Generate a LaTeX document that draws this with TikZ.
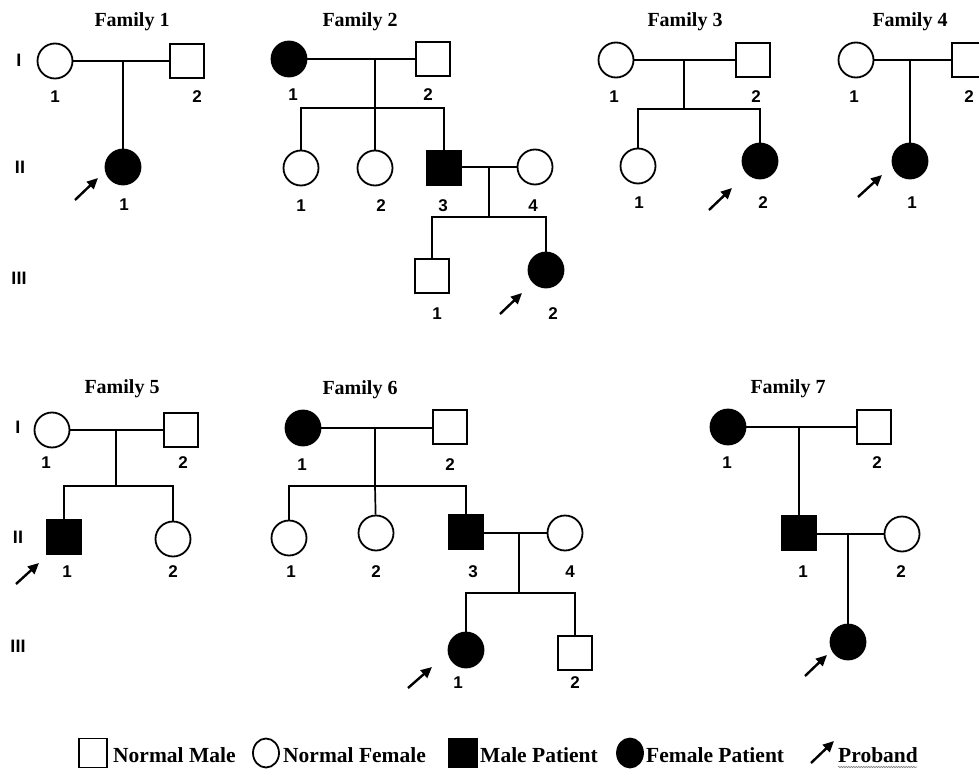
\documentclass[tikz,border=0pt]{standalone}
\usepackage{fontspec}
\setmainfont{Liberation Serif}
\newfontfamily\lsans{Liberation Sans}
\usetikzlibrary{arrows.meta,decorations.pathmorphing,shapes.geometric}
\tikzset{
  pm/.style={draw, rectangle, minimum size=34pt, inner sep=0pt, line width=1.8pt},
  pf/.style={draw, circle, minimum size=35pt, inner sep=0pt, line width=1.8pt},
  aff/.style={fill=black},
  lnk/.style={line width=1.7pt},
  num/.style={font=\lsans\bfseries\fontsize{17}{17}\selectfont, inner sep=0pt},
  gen/.style={font=\lsans\bfseries\fontsize{18}{18}\selectfont, inner sep=0pt},
  ttl/.style={font=\bfseries\fontsize{20}{20}\selectfont, inner sep=0pt},
  prob/.style={line width=2.4pt, -{Triangle[length=11pt,width=10pt]}},
  leg/.style={font=\bfseries\fontsize{21.5}{21.5}\selectfont, anchor=base west, inner sep=0pt},
  lsq/.style={draw, rectangle, minimum width=28pt, minimum height=29pt, inner sep=0pt, line width=1.8pt},
  lci/.style={draw, ellipse, minimum width=26pt, minimum height=29pt, inner sep=0pt, line width=1.8pt}
}
\begin{document}
\begin{tikzpicture}[x=1pt,y=-1pt]
\useasboundingbox (0,0) rectangle (979,770);
\fill[white] (0,0) rectangle (979,770);
\clip (0,0) rectangle (979,770);

% generation labels
\node[gen] (g1a) at (19,60) {I};
\node[gen] (g2a) at (20,167) {II};
\node[gen] (g3a) at (19,278) {III};
\node[gen] (g1b) at (18,427) {I};
\node[gen] (g2b) at (18,537) {II};
\node[gen] (g3b) at (18,646) {III};

% ---------------- Family 1
\node[ttl] (t1) at (132,22) {Family 1};
\node[pf] (f1a) at (55,61) {};
\node[pm] (f1b) at (187,61) {};
\node[pf,aff] (f1c) at (123,167) {};
\coordinate (m1) at (123,61);
\draw[lnk] (f1a) -- (f1b);
\draw[lnk] (m1) -- (f1c);
\node[num] (n1a) at (55,97) {1};
\node[num] (n1b) at (197,97) {2};
\node[num] (n1c) at (124,205) {1};
\coordinate (p1s) at (75,200); \coordinate (p1e) at (98,178);
\draw[prob] (p1s) -- (p1e);

% ---------------- Family 2
\node[ttl] (t2) at (360,22) {Family 2};
\node[pf,aff] (f2a) at (289,59) {};
\node[pm] (f2b) at (433,59) {};
\coordinate (m2) at (375,59);
\coordinate (s2) at (375,108);
\draw[lnk] (f2a) -- (f2b);
\draw[lnk] (m2) -- (s2);
\node[pf] (f2c) at (301,168) {};
\node[pf] (f2d) at (375,168) {};
\node[pm,aff] (f2e) at (444,168) {};
\node[pf] (f2f) at (535,167) {};
\draw[lnk] (s2) -| (f2c);
\draw[lnk] (s2) -| (f2e);
\draw[lnk] (s2) -- (f2d);
\draw[lnk] (f2e.east |- f2f.west) -- (f2f.west);
\coordinate (m2b) at (489,167);
\coordinate (s2b) at (489,217);
\draw[lnk] (m2b) -- (s2b);
\node[pm] (f2g) at (432,276) {};
\node[pf,aff] (f2h) at (546,270) {};
\draw[lnk] (s2b) -| (f2g);
\draw[lnk] (s2b) -| (f2h);
\node[num] (n2a) at (293,95) {1};
\node[num] (n2b) at (428,95) {2};
\node[num] (n2c) at (301,206) {1};
\node[num] (n2d) at (381,206) {2};
\node[num] (n2e) at (443,206) {3};
\node[num] (n2f) at (533,206) {4};
\node[num] (n2g) at (437,314) {1};
\node[num] (n2h) at (553,314) {2};
\coordinate (p2s) at (500,314); \coordinate (p2e) at (522,293);
\draw[prob] (p2s) -- (p2e);

% ---------------- Family 3
\node[ttl] (t3) at (685,22) {Family 3};
\node[pf] (f3a) at (616,60) {};
\node[pm] (f3b) at (753,60) {};
\coordinate (m3) at (684,60);
\coordinate (s3) at (684,109);
\draw[lnk] (f3a) -- (f3b);
\draw[lnk] (m3) -- (s3);
\node[pf] (f3c) at (638,166) {};
\node[pf,aff] (f3d) at (760,161) {};
\draw[lnk] (s3) -| (f3c);
\draw[lnk] (s3) -| (f3d);
\node[num] (n3a) at (614,97) {1};
\node[num] (n3b) at (756,97) {2};
\node[num] (n3c) at (639,203) {1};
\node[num] (n3d) at (763,203) {2};
\coordinate (p3s) at (709,210); \coordinate (p3e) at (732,188);
\draw[prob] (p3s) -- (p3e);

% ---------------- Family 4
\node[ttl] (t4) at (910,22) {Family 4};
\node[pf] (f4a) at (856,60) {};
\node[pm] (f4b) at (969,60) {};
\coordinate (m4) at (910,60);
\draw[lnk] (f4a) -- (f4b);
\node[pf,aff] (f4c) at (910,161) {};
\draw[lnk] (m4) -- (f4c);
\node[num] (n4a) at (854,97) {1};
\node[num] (n4b) at (969,97) {2};
\node[num] (n4c) at (912,203) {1};
\coordinate (p4s) at (858,197); \coordinate (p4e) at (882,175);
\draw[prob] (p4s) -- (p4e);

% ---------------- Family 5
\node[ttl] (t5) at (122,389) {Family 5};
\node[pf] (f5a) at (52,430) {};
\node[pm] (f5b) at (181,430) {};
\coordinate (m5) at (116,430);
\coordinate (s5) at (116,486);
\draw[lnk] (f5a) -- (f5b);
\draw[lnk] (m5) -- (s5);
\node[pm,aff] (f5c) at (64,537) {};
\node[pf] (f5d) at (173,539) {};
\draw[lnk] (s5) -| (f5c);
\draw[lnk] (s5) -| (f5d);
\node[num] (n5a) at (46,463) {1};
\node[num] (n5b) at (183,463) {2};
\node[num] (n5c) at (67,572) {1};
\node[num] (n5d) at (173,572) {2};
\coordinate (p5s) at (16,584); \coordinate (p5e) at (39,563);
\draw[prob] (p5s) -- (p5e);

% ---------------- Family 6
\node[ttl] (t6) at (360,390) {Family 6};
\node[pf,aff] (f6a) at (303,428) {};
\node[pm] (f6b) at (450,427) {};
\coordinate (m6) at (375,428);
\coordinate (s6) at (375,486);
\draw[lnk] (f6a.east) -- (f6b.west |- f6a.east);
\draw[lnk] (m6) -- (s6);
\node[pf] (f6c) at (289,538) {};
\node[pf] (f6d) at (376,533) {};
\node[pm,aff] (f6e) at (466,532) {};
\node[pf] (f6f) at (565,533) {};
\draw[lnk] (s6) -| (f6c);
\draw[lnk] (s6) -| (f6e);
\draw[lnk] (s6) -- (f6d);
\draw[lnk] (f6e.east |- f6f.west) -- (f6f.west);
\coordinate (m6b) at (519,533);
\coordinate (s6b) at (519,593);
\draw[lnk] (m6b) -- (s6b);
\node[pf,aff] (f6g) at (466,650) {};
\node[pm] (f6h) at (575,653) {};
\draw[lnk] (s6b) -| (f6g);
\draw[lnk] (s6b) -| (f6h);
\node[num] (n6a) at (302,465) {1};
\node[num] (n6b) at (450,465) {2};
\node[num] (n6c) at (291,572) {1};
\node[num] (n6d) at (376,572) {2};
\node[num] (n6e) at (473,572) {3};
\node[num] (n6f) at (570,572) {4};
\node[num] (n6g) at (458,683) {1};
\node[num] (n6h) at (575,683) {2};
\coordinate (p6s) at (408,688); \coordinate (p6e) at (432,667);
\draw[prob] (p6s) -- (p6e);

% ---------------- Family 7
\node[ttl] (t7) at (788,389) {Family 7};
\node[pf,aff] (f7a) at (728,427) {};
\node[pm] (f7b) at (874,427) {};
\coordinate (m7) at (799,427);
\draw[lnk] (f7a) -- (f7b);
\node[pm,aff] (f7c) at (799,533) {};
\node[pf] (f7d) at (902,534) {};
\draw[lnk] (m7) -- (f7c);
\draw[lnk] (f7c.east |- f7d.west) -- (f7d.west);
\coordinate (m7b) at (848,534);
\node[pf,aff] (f7e) at (848,642) {};
\draw[lnk] (m7b) -- (f7e);
\node[num] (n7a) at (727,463) {1};
\node[num] (n7b) at (877,463) {2};
\node[num] (n7c) at (803,572) {1};
\node[num] (n7d) at (901,572) {2};
\coordinate (p7s) at (805,676); \coordinate (p7e) at (827,655);
\draw[prob] (p7s) -- (p7e);

% ---------------- Legend
\node[lsq] (l1) at (93,753) {};
\node[leg] (l1t) at (113,762) {Normal Male};
\node[lci] (l2) at (266,753) {};
\node[leg] (l2t) at (283,762) {Normal Female};
\node[lsq,aff] (l3) at (463,753) {};
\node[leg] (l3t) at (480,762) {Male Patient};
\node[lci,aff] (l4) at (630,753) {};
\node[leg] (l4t) at (646,762) {Female Patient};
\coordinate (l5s) at (811,763); \coordinate (l5e) at (834,741);
\draw[prob] (l5s) -- (l5e);
\node[leg] (l5t) at (838,762) {Proband};
\coordinate (u1) at (838,767); \coordinate (u2) at (917,767);
\draw[gray, line width=0.6pt, decorate, decoration={snake, amplitude=0.7pt, segment length=2.5pt}] (u1) -- (u2);
\end{tikzpicture}
\end{document}
